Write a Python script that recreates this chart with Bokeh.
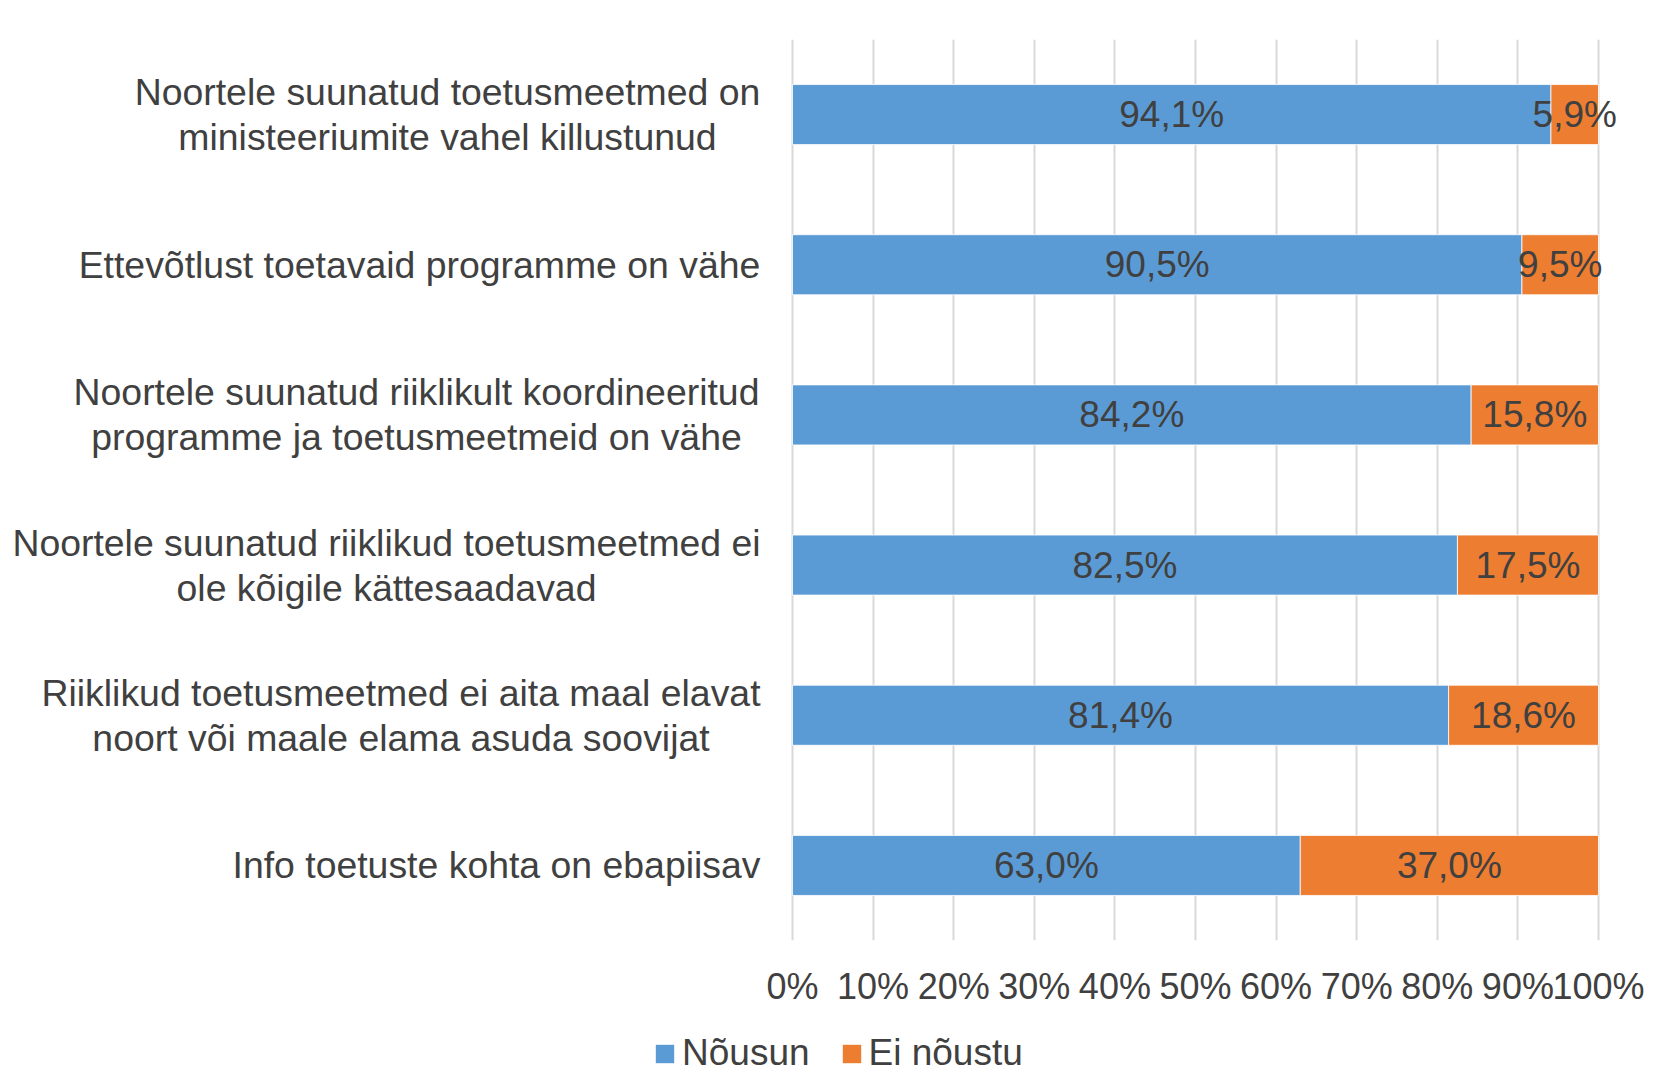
from bokeh.plotting import figure
from bokeh.layouts import column
from bokeh.models import (ColumnDataSource, Range1d, FactorRange,
                          FixedTicker, Legend, LegendItem)
from bokeh.core.properties import value
from bokeh.embed import file_html
from bokeh.resources import INLINE

# ---- data ----
categories = [
    "Noortele suunatud toetusmeetmed on\nministeeriumite vahel killustunud",
    "Ettevõtlust toetavaid programme on vähe",
    "Noortele suunatud riiklikult koordineeritud\nprogramme ja toetusmeetmeid on vähe",
    "Noortele suunatud riiklikud toetusmeetmed ei\nole kõigile kättesaadavad",
    "Riiklikud toetusmeetmed ei aita maal elavat\nnoort või maale elama asuda soovijat",
    "Info toetuste kohta on ebapiisav",
]
nousun = [94.1, 90.5, 84.2, 82.5, 81.4, 63.0]
ei_noustu = [5.9, 9.5, 15.8, 17.5, 18.6, 37.0]
series_names = ["Nõusun", "Ei nõustu"]
tick_values = [0, 10, 20, 30, 40, 50, 60, 70, 80, 90, 100]
tick_labels = ["0%", "10%", "20%", "30%", "40%", "50%", "60%", "70%", "80%", "90%", "100%"]

# ---- style / layout ----
FONT = "Liberation Sans"
TXT = "#404040"
BLUE = "#5B9BD5"
ORANGE = "#ED7D31"
GRID = "#D9D9D9"

W = 1655
H_MAIN, H_LEG = 1010, 71
PLOT_LEFT_PX, PLOT_RIGHT_PX = 792, 1598       # where 0% and 100% sit
PPU = (PLOT_RIGHT_PX - PLOT_LEFT_PX) / 100.0   # pixels per percent
x_start = -PLOT_LEFT_PX / PPU
x_end = 100 + (W - PLOT_RIGHT_PX) / PPU
# horizontal centres (px) of the category label blocks
label_centre_px = [447, 419, 416, 386, 400.5, 496]

keys = [f"c{i}" for i in range(len(categories))]

src = ColumnDataSource(dict(
    y=keys,
    nousun=nousun,
    ei=ei_noustu,
    lab_cat=categories,
    lab_x=[(c - PLOT_LEFT_PX) / PPU for c in label_centre_px],
    mid_a=[v / 2 for v in nousun],
    mid_b=[a + b / 2 for a, b in zip(nousun, ei_noustu)],
    txt_a=[f"{v:.1f}%".replace(".", ",") for v in nousun],
    txt_b=[f"{v:.1f}%".replace(".", ",") for v in ei_noustu],
))

p = figure(width=W, height=H_MAIN, output_backend="svg", toolbar_location=None,
           x_range=Range1d(x_start, x_end),
           y_range=FactorRange(factors=list(reversed(keys)), range_padding=0),
           min_border_left=0, min_border_right=0, min_border_top=39,
           min_border_bottom=H_MAIN - 940)
p.outline_line_color = None
p.background_fill_color = "white"
p.border_fill_color = "white"

p.hbar_stack(["nousun", "ei"], y="y", height=0.4, source=src,
             color=[BLUE, ORANGE], line_color="white", line_width=0.8)

p.yaxis.visible = False
p.ygrid.grid_line_color = None
p.xgrid.grid_line_color = GRID
p.xgrid.grid_line_width = 2
p.xgrid.ticker = FixedTicker(ticks=tick_values)
p.xgrid.level = "underlay"

xa = p.xaxis[0]
xa.ticker = FixedTicker(ticks=tick_values)
xa.major_label_overrides = {v: l for v, l in zip(tick_values, tick_labels)}
xa.axis_line_color = None
xa.major_tick_line_color = None
xa.minor_tick_line_color = None
xa.major_tick_out = 0
xa.major_tick_in = 0
xa.major_label_standoff = 25
xa.major_label_text_font = FONT
xa.major_label_text_font_size = "36px"
xa.major_label_text_color = TXT

# value labels
for xcol, tcol in (("mid_a", "txt_a"), ("mid_b", "txt_b")):
    p.text(x=xcol, y="y", text=tcol, source=src,
           text_align="center", text_baseline="middle",
           text_font=value(FONT), text_font_size="37px", text_color=TXT)

# category labels (centred multi-line blocks left of the bars)
p.text(x="lab_x", y="y", text="lab_cat", source=src,
       text_align="center", text_baseline="middle", text_line_height=1.07,
       text_font=value(FONT), text_font_size="37.4px", text_color=TXT)

# ---- legend strip (own small figure under the chart) ----
pl = figure(width=W, height=H_LEG, output_backend="svg", toolbar_location=None,
            x_range=Range1d(-1000, -900),
            y_range=FactorRange(factors=list(reversed(keys))),
            min_border_left=0, min_border_right=0, min_border_top=0,
            min_border_bottom=0)
pl.outline_line_color = None
pl.axis.visible = False
pl.grid.visible = False
lr = pl.hbar_stack(["nousun", "ei"], y="y", height=0.4, source=src,
                   color=[BLUE, ORANGE], line_color=None)

legend = Legend(items=[LegendItem(label=series_names[0], renderers=[lr[0]]),
                       LegendItem(label=series_names[1], renderers=[lr[1]])],
                orientation="horizontal", location=(653, 7),
                glyph_width=23, glyph_height=23, label_standoff=6, spacing=30,
                padding=0, margin=0, border_line_color=None,
                background_fill_alpha=0,
                label_text_font=FONT, label_text_font_size="37px",
                label_text_color=TXT)
pl.add_layout(legend, "center")

layout = column(p, pl, spacing=0)
open("out.html", "w").write(file_html(layout, INLINE))
